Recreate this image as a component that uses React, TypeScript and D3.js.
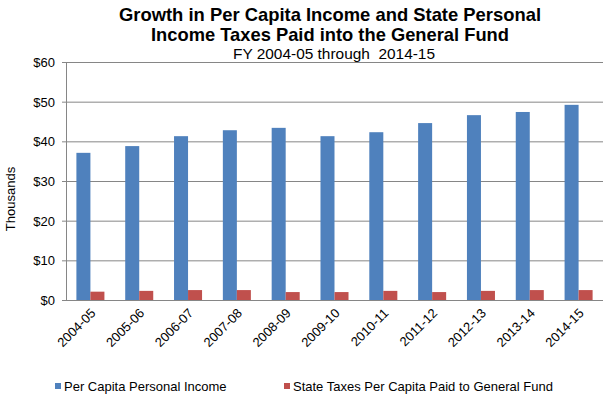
import { useEffect, useRef } from 'react';
import * as d3 from 'd3';

const years = ['2004-05', '2005-06', '2006-07', '2007-08', '2008-09', '2009-10', '2010-11', '2011-12', '2012-13', '2013-14', '2014-15'];
const income = [37.1, 38.8, 41.3, 42.8, 43.4, 41.3, 42.3, 44.6, 46.6, 47.4, 49.2];
const taxes = [2.1, 2.3, 2.5, 2.5, 2.0, 2.0, 2.3, 2.0, 2.3, 2.5, 2.5];
const seriesNames = ['Per Capita Personal Income', 'State Taxes Per Capita Paid to General Fund'];
const colors = ['#4F81BD', '#C0504D'];
const yTicks = [0, 10, 20, 30, 40, 50, 60];

const App = () => {
  const svgRef = useRef<SVGSVGElement>(null);

  useEffect(() => {
    const svg = d3.select(svgRef.current);
    svg.selectAll('*').remove();

    const font = 'Liberation Sans, Arial, sans-serif';
    const left = 66, right = 603, top = 62, bottom = 300;

    const x = d3.scaleBand().domain(years).range([left, right]).paddingInner(0.426).paddingOuter(0.213);
    const sub = d3.scaleBand().domain(['0', '1']).range([0, x.bandwidth()]);
    const y = d3.scaleLinear().domain([0, 60]).range([bottom, top]);

    // Gridlines
    svg.append('g')
      .selectAll('line')
      .data(yTicks)
      .enter()
      .append('line')
      .attr('x1', left - 4)
      .attr('x2', right)
      .attr('y1', d => y(d) + 0.5)
      .attr('y2', d => y(d) + 0.5)
      .attr('stroke', '#868686')
      .attr('stroke-width', 1);

    // Y axis line
    svg.append('line')
      .attr('x1', left + 0.5).attr('x2', left + 0.5)
      .attr('y1', top).attr('y2', bottom)
      .attr('stroke', '#868686');

    // Y tick labels
    svg.append('g')
      .selectAll('text')
      .data(yTicks)
      .enter()
      .append('text')
      .attr('x', 55)
      .attr('y', d => y(d) + 5)
      .attr('text-anchor', 'end')
      .style('font-family', font)
      .style('font-size', '13px')
      .attr('fill', '#000')
      .text(d => `$${d}`);

    // Bars
    const groups = svg.append('g')
      .selectAll('g')
      .data(years)
      .enter()
      .append('g')
      .attr('transform', d => `translate(${x(d)},0)`);

    [income, taxes].forEach((vals, s) => {
      groups.append('rect')
        .attr('x', sub(String(s)) as number)
        .attr('width', sub.bandwidth())
        .attr('y', (_d, i) => y(vals[i]))
        .attr('height', (_d, i) => bottom - y(vals[i]))
        .attr('fill', colors[s]);
    });

    // X axis line on top of bars
    svg.append('line')
      .attr('x1', left).attr('x2', right)
      .attr('y1', bottom + 0.5).attr('y2', bottom + 0.5)
      .attr('stroke', '#868686');

    // X labels
    svg.append('g')
      .selectAll('text')
      .data(years)
      .enter()
      .append('text')
      .attr('transform', d => `translate(${(x(d) as number) + x.bandwidth() / 2 + 6},${bottom + 14}) rotate(-45)`)
      .attr('text-anchor', 'end')
      .style('font-family', font)
      .style('font-size', '13px')
      .text(d => d);

    // Y axis title
    svg.append('text')
      .attr('transform', `translate(15,199) rotate(-90)`)
      .attr('text-anchor', 'middle')
      .style('font-family', font)
      .style('font-size', '13px')
      .text('Thousands');

    // Title
    const title = svg.append('text')
      .style('font-family', font)
      .style('font-weight', 'bold')
      .style('font-size', '19px');
    title.append('tspan').attr('x', 119).attr('y', 21)
      .attr('textLength', 422).attr('lengthAdjust', 'spacingAndGlyphs')
      .text('Growth in Per Capita Income and State Personal');
    title.append('tspan').attr('x', 151).attr('y', 41)
      .attr('textLength', 358).attr('lengthAdjust', 'spacingAndGlyphs')
      .text('Income Taxes Paid into the General Fund');

    svg.append('text')
      .attr('x', 233)
      .attr('y', 59)
      .attr('textLength', 202)
      .attr('lengthAdjust', 'spacingAndGlyphs')
      .style('font-family', font)
      .style('font-size', '14px')
      .style('white-space', 'pre')
      .text('FY 2004-05 through  2014-15');

    // Legend
    const legendX = [55, 284];
    seriesNames.forEach((name, i) => {
      svg.append('rect')
        .attr('x', legendX[i])
        .attr('y', 383)
        .attr('width', 6)
        .attr('height', 6)
        .attr('fill', colors[i]);
      svg.append('text')
        .attr('x', legendX[i] + 9)
        .attr('y', 391)
        .style('font-family', font)
        .style('font-size', '13px')
        .text(name);
    });
  }, []);

  return (
    <svg
      ref={svgRef}
      width={612}
      height={399}
      style={{ position: 'absolute', left: 0, top: 0, background: '#fff' }}
    />
  );
};

export default App;
